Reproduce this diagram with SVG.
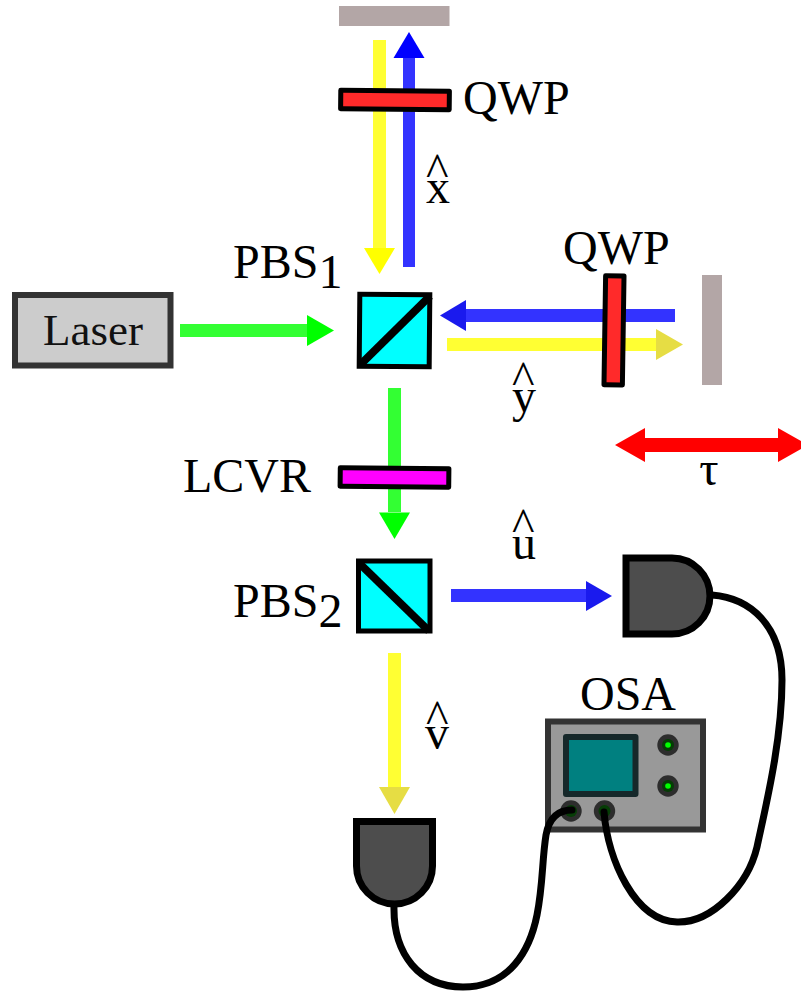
<svg xmlns="http://www.w3.org/2000/svg" width="801" height="993" viewBox="0 0 801 993">
<style>
text{font-family:"Liberation Serif","Times New Roman",serif;font-size:48px;fill:#000}
.lab{font-size:45px;fill:#111}
.mirror{fill:#b3a6a6}
.wp{stroke:#000;stroke-width:5;stroke-linejoin:round}
.cube{fill:#0ff;stroke:#000;stroke-width:5}
.diag{stroke:#000;stroke-width:8;fill:none}
.det{fill:#4d4d4d;stroke:#000;stroke-width:7}
.cable{fill:none;stroke:#000;stroke-width:7;stroke-linecap:round}
.knob{fill:#2d2d2d}
.knobi{fill:#063d06}
.led{fill:#0f0}
</style>
<rect width="801" height="993" fill="#fff"/>
<g id="beams">
<path d="M373 40h13v208h-13z" fill="#ff3"/><path d="M364 248h31l-15.500 26z" fill="#ff0"/>
<path d="M403 58h12v209h-12z" fill="#33f"/><path d="M393.500 58h31L409 32z" fill="#00f"/>
<path d="M180 324h130v13H180z" fill="#3f3"/><path d="M307 315v31l27-15.500z" fill="#0f0"/>
<path d="M466 309h209v13H466z" fill="#33f"/><path d="M466 300v31l-26-15.500z" fill="#1a1aee"/>
<path d="M447 338h211v13H447z" fill="#ff3"/><path d="M656 329v31l27-15.500z" fill="#e6dd44"/>
<path d="M388 388h13v124h-13z" fill="#3f3"/><path d="M379 512.500h31L394.500 539z" fill="#0f0"/>
<path d="M451 589h135v13H451z" fill="#33f"/><path d="M586 581v30l26-15z" fill="#1a1aee"/>
<path d="M388 653h13v134h-13z" fill="#ff3"/><path d="M379 787h31l-15.500 27z" fill="#e6dd44"/>
<path d="M645 438h133v14H645z" fill="#f00"/><path d="M645 428v34l-30-17zM778 428v34l30-17z" fill="#f00"/>
</g>
<g id="mirror-top"><rect class="mirror" x="339" y="6" width="110.500" height="20"/></g>
<g id="mirror-right"><rect class="mirror" x="702" y="275" width="20" height="110"/></g>
<g id="qwp-top"><rect class="wp" fill="#ff2a2a" x="340.700" y="90.800" width="108.600" height="18.400" transform="rotate(0.6 395 100)"/><text x="463" y="114">QWP</text></g>
<g id="qwp-right"><rect class="wp" fill="#ff2a2a" x="604.800" y="275.800" width="18.400" height="109" transform="rotate(0.85 614 330.300)"/><text x="563" y="264">QWP</text></g>
<g id="lcvr"><rect class="wp" fill="#f0f" x="340.200" y="468.300" width="108.600" height="18.400" transform="rotate(0.6 394.500 477.500)"/><text x="183" y="492">LCVR</text></g>
<g id="pbs1"><rect class="cube" x="359.500" y="294.500" width="70" height="72" transform="rotate(0.5 394.500 330.500)"/><path class="diag" d="M360 365L430 296"/><text x="233" y="278">PBS<tspan dy="10">1</tspan></text></g>
<g id="pbs2"><rect class="cube" x="358.500" y="561" width="71.500" height="70"/><path class="diag" d="M359 563L429 631"/><text x="233" y="617">PBS<tspan dy="10">2</tspan></text></g>
<g id="laser"><rect x="15" y="295" width="155.500" height="70.500" fill="#ccc" stroke="#333" stroke-width="6"/><text class="lab" x="93" y="345" text-anchor="middle">Laser</text></g>
<g id="det1"><path class="det" d="M626 558H672A38 38 0 0 1 672 634H626Z"/></g>
<g id="det2"><path class="det" d="M356.500 821.500H432.500V866A38 38 0 0 1 356.500 866Z"/></g>
<g id="osa">
<rect x="548" y="721.500" width="155" height="108" fill="#999" stroke="#333" stroke-width="6"/>
<rect x="566" y="737" width="69.500" height="57" fill="#008080" stroke="#16282a" stroke-width="6" stroke-linejoin="round"/>
<circle class="knob" cx="668" cy="745" r="10.700"/><circle class="knobi" cx="668" cy="745" r="6"/><circle class="led" cx="668" cy="745" r="2.800"/>
<circle class="knob" cx="668" cy="786" r="10.700"/><circle class="knobi" cx="668" cy="786" r="6"/><circle class="led" cx="668" cy="786" r="2.800"/>
<circle class="knob" cx="571" cy="811" r="10.700"/><circle class="knobi" cx="571" cy="811" r="6"/>
<circle class="knob" cx="604.500" cy="811" r="10.700"/><circle class="knobi" cx="604.500" cy="811" r="6"/>
<text x="580" y="710">OSA</text>
</g>
<g id="connectors">
<path class="cable" d="M712 595C750 598 782 625 782 680C782 740 766 805 757 847C748 885 712 923 677 922C635 921 608 860 604 812"/>
<path class="cable" d="M394 906C393 955 420 987 463 987C510 987 530 950 537 915C543 885 542 860 546 835C549 818 558 810 572 810"/>
</g>
<g id="labels">
<text><tspan x="426" y="186">^</tspan><tspan x="426" y="203">x</tspan></text>
<text><tspan x="512" y="394">^</tspan><tspan x="512" y="412">y</tspan></text>
<text><tspan x="512" y="541">^</tspan><tspan x="512" y="559">u</tspan></text>
<text><tspan x="426" y="733">^</tspan><tspan x="425" y="749">v</tspan></text>
<text x="709" y="485" text-anchor="middle">τ</text>
</g>
</svg>
